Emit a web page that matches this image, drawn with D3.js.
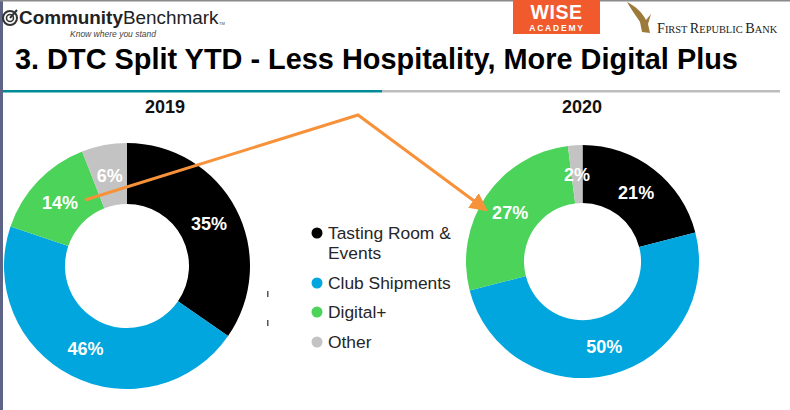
<!DOCTYPE html>
<html><head><meta charset="utf-8">
<script src="https://cdn.jsdelivr.net/npm/d3@7"></script>
<style>
html,body{margin:0;padding:0;background:#fff;}
svg{display:block;font-family:"Liberation Sans",Arial,sans-serif;}
</style></head>
<body><svg id="c" width="790" height="410"></svg>
<script>
const categories = ["Tasting Room & Events", "Club Shipments", "Digital+", "Other"];
const legendLines = [["Tasting Room &", "Events"], ["Club Shipments"], ["Digital+"], ["Other"]];
const colors = ["#000000", "#00a6dd", "#4cd35a", "#c3c3c3"];
const years = ["2019", "2020"];
const values2019 = [35, 46, 14, 6];
const values2020 = [21, 50, 27, 2];
const title = "3. DTC Split YTD - Less Hospitality, More Digital Plus";

const svg = d3.select("#c");
svg.append("rect").attr("width", 790).attr("height", 410).attr("fill", "#fff");
svg.append("rect").attr("x", 0).attr("y", 0).attr("width", 3).attr("height", 410).attr("fill", "#5d6485");
svg.append("rect").attr("x", 0).attr("y", 0).attr("width", 790).attr("height", 1.5).attr("fill", "#8a8a8a");

// Header logos
const logo = svg.append("g");
const ic = logo.append("g").attr("transform", "translate(10,18)");
ic.append("circle").attr("r", 7).attr("fill", "none").attr("stroke", "#333").attr("stroke-width", 2);
ic.append("circle").attr("r", 3.5).attr("fill", "none").attr("stroke", "#333").attr("stroke-width", 1.6);
ic.append("line").attr("x1", 0).attr("y1", 0).attr("x2", 7).attr("y2", -8).attr("stroke", "#333").attr("stroke-width", 2);
const lt = logo.append("text").attr("x", 19).attr("y", 24).attr("font-size", 18.9).attr("fill", "#222");
lt.append("tspan").attr("font-weight", "bold").text("Community");
lt.append("tspan").text("Benchmark");
logo.append("text").attr("x", 219).attr("y", 25).attr("font-size", 4).attr("fill", "#444").text("TM");
logo.append("text").attr("x", 70).attr("y", 36.5).attr("font-size", 8.5).attr("font-style", "italic").attr("fill", "#444").text("Know where you stand");

svg.append("rect").attr("x", 513).attr("y", 0).attr("width", 87).attr("height", 34).attr("fill", "#f15a2c");
svg.append("text").attr("x", 556.5).attr("y", 18.5).attr("text-anchor", "middle").attr("font-size", 19.5).attr("font-weight", "bold").attr("letter-spacing", 0.6).attr("fill", "#fff").text("WISE");
svg.append("text").attr("x", 557).attr("y", 31).attr("text-anchor", "middle").attr("font-size", 8.5).attr("font-weight", "bold").attr("letter-spacing", 1.8).attr("fill", "#fff").text("ACADEMY");
svg.append("path").attr("d", "M627,2 C635,6 642,12 646,20 L651,14 L648,24 L650,33 L642,32 L640,22 C636,16 631,9 627,2 Z").attr("fill", "#9c7a3c");
const frb = svg.append("text").attr("x", 657).attr("y", 33).attr("font-family", "'Liberation Serif','DejaVu Serif',serif").attr("fill", "#222");
[["F", 14.2], ["IRST ", 10.4], ["R", 14.2], ["EPUBLIC ", 10.4], ["B", 14.2], ["ANK", 10.4]].forEach(([t, s]) => frb.append("tspan").attr("font-size", s).text(t));

// Title
svg.append("text").attr("x", 15).attr("y", 69).attr("font-size", 28.9).attr("font-weight", "bold").attr("fill", "#000").text(title);
svg.append("rect").attr("x", 3).attr("y", 90).attr("width", 379).attr("height", 2.5).attr("fill", "#008b99");
svg.append("rect").attr("x", 382).attr("y", 90).attr("width", 398).attr("height", 2.5).attr("fill", "#bdbdbd");

// Donuts
const pie = d3.pie().sort(null).value(d => d);
const donuts = [
  {year: years[0], values: values2019, cx: 127, cy: 266, r: 123, ri: 62},
  {year: years[1], values: values2020, cx: 582.5, cy: 261.5, r: 116.5, ri: 58.5}
];
const yearX = [165, 582];
donuts.forEach((d, i) => {
  const g = svg.append("g").attr("transform", `translate(${d.cx},${d.cy})`);
  const arc = d3.arc().innerRadius(d.ri).outerRadius(d.r);
  const arcs = pie(d.values);
  g.selectAll("path").data(arcs).join("path").attr("d", arc).attr("fill", (a, j) => colors[j]);
  g.selectAll("text").data(arcs).join("text")
    .attr("transform", a => { const c = arc.centroid(a); return `translate(${c[0]},${c[1]})`; })
    .attr("text-anchor", "middle").attr("dy", "0.36em")
    .attr("font-size", 18).attr("font-weight", "bold").attr("fill", "#fff")
    .text(a => a.data + "%");
  svg.append("text").attr("x", yearX[i]).attr("y", 113).attr("text-anchor", "middle")
    .attr("font-size", 18).attr("font-weight", "bold").attr("fill", "#111").text(d.year);
});

// Legend
const legY = [233, 283, 312, 342];
const leg = svg.append("g");
categories.forEach((c, i) => {
  leg.append("circle").attr("cx", 317).attr("cy", legY[i]).attr("r", 5.5).attr("fill", colors[i]);
  const t = leg.append("text").attr("x", 328).attr("y", legY[i] + 6).attr("font-size", 17.4).attr("fill", "#262626");
  legendLines[i].forEach((l, k) => t.append("tspan").attr("x", 328).attr("dy", k === 0 ? 0 : 20).text(l));
});
svg.append("rect").attr("x", 267).attr("y", 291).attr("width", 1.5).attr("height", 6).attr("fill", "#555");
svg.append("rect").attr("x", 267).attr("y", 320).attr("width", 1.5).attr("height", 6).attr("fill", "#555");

// Orange arrow
const defs = svg.append("defs");
defs.append("marker").attr("id", "ah").attr("viewBox", "0 0 10 10").attr("refX", 8).attr("refY", 5)
  .attr("markerWidth", 6).attr("markerHeight", 6).attr("markerUnits", "strokeWidth").attr("orient", "auto")
  .append("path").attr("d", "M0,0 L10,5 L0,10 Z").attr("fill", "#f7923a");
svg.append("path").attr("d", d3.line()([[85, 200], [358, 115], [485, 209]]))
  .attr("fill", "none").attr("stroke", "#f7923a").attr("stroke-width", 3).attr("stroke-linejoin", "miter")
  .attr("marker-end", "url(#ah)");
</script></body></html>
